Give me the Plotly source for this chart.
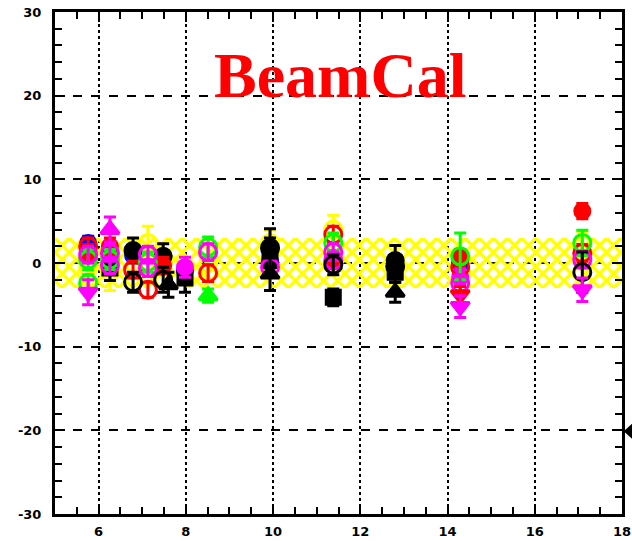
import plotly.graph_objects as go

# ---- data -------------------------------------------------------------
band_x = [5.0, 18.0]
band_lo = -3.0
band_hi = 3.0

red_fill_x = [5.76, 6.26, 7.48, 11.38, 14.29, 17.09]
red_fill_y = [1.2, 2.0, -0.3, 0.5, 0.6, 6.2]
red_fill_e = [1.0, 1.0, 1.0, 1.0, 1.0, 0.9]

red_open_x = [5.76, 6.79, 7.13, 8.51, 11.38, 14.29, 17.09]
red_open_y = [2.0, -0.8, -3.2, -1.2, 3.4, -0.5, 1.2]
red_open_e = [1.0, 1.0, 0.9, 1.0, 1.0, 1.0, 1.0]

green_open_x = [5.76, 5.76, 6.26, 7.13, 8.51, 11.38, 14.29, 17.09]
green_open_y = [0.4, -2.4, 0.4, 0.1, 1.9, 2.4, 0.8, 2.4]
green_open_e = [1.2, 1.0, 1.2, 1.2, 1.2, 1.2, 2.8, 1.5]

blue_fill_x = [5.76, 6.79, 7.98, 9.93, 12.8, 14.29]
blue_fill_y = [2.4, 0.9, -0.9, 0.2, -0.1, 0.0]
blue_fill_e = [0.8, 0.8, 0.8, 0.8, 0.8, 0.8]

mag_open_x = [5.76, 6.26, 6.26, 7.13, 7.13, 8.51, 9.93, 11.38, 11.38, 14.29, 17.09]
mag_open_y = [1.0, 1.2, -0.3, 1.0, -0.6, 1.3, -0.5, 1.3, 0.3, -2.4, 0.4]
mag_open_e = [1.0, 1.0, 1.0, 1.0, 1.0, 1.0, 1.0, 1.0, 1.0, 1.0, 1.0]

mag_fill_x = [7.98, 14.29]
mag_fill_y = [-0.5, -1.7]
mag_fill_e = [1.2, 1.0]

mag_down_x = [5.76, 14.29, 17.09]
mag_down_y = [-3.5, -5.2, -3.2]
mag_down_e = [1.5, 1.3, 1.4]

mag_up_x = [6.26]
mag_up_y = [4.0]
mag_up_e = [1.5]

yel_open_x = [5.76, 6.26, 7.13, 8.51, 9.93, 11.38, 17.09]
yel_open_y = [-0.6, -1.1, 2.4, 0.0, 2.4, 4.0, 2.2]
yel_open_e = [2.0, 2.2, 2.0, 2.0, 1.5, 1.7, 1.5]

blk_fill_x = [6.79, 7.48, 9.93, 12.8]
blk_fill_y = [1.5, 0.8, 1.8, 0.3]
blk_fill_e = [1.5, 1.5, 2.3, 1.8]

blk_open_x = [6.79, 7.48, 9.93, 11.38, 12.8, 17.09]
blk_open_y = [-2.3, -2.0, 1.8, -0.2, -0.4, -1.1]
blk_open_e = [1.2, 1.5, 1.2, 1.2, 1.2, 2.4]

blk_sq_x = [6.26, 7.98, 9.93, 11.38, 12.8]
blk_sq_y = [-0.6, -1.8, 0.3, -4.1, -1.1]
blk_sq_e = [1.5, 1.7, 1.5, 1.0, 1.2]

blk_up_x = [7.6, 9.93, 12.8]
blk_up_y = [-2.6, -1.3, -3.5]
blk_up_e = [1.5, 2.0, 1.2]

grn_up_x = [8.51]
grn_up_y = [-3.9]
grn_up_e = [0.8]

red_down_x = [14.29]
red_down_y = [-3.8]
red_down_e = [1.0]

# point lying just past the right end of the x range
edge_y = -20.1

x_ticks = [6, 8, 10, 12, 14, 16, 18]
y_ticks = [-30, -20, -10, 0, 10, 20, 30]

# ---- figure -----------------------------------------------------------
fig = go.Figure()

# hatched yellow uncertainty band
fig.add_trace(go.Scatter(
    x=[band_x[0], band_x[1], band_x[1], band_x[0], band_x[0]],
    y=[band_lo, band_lo, band_hi, band_hi, band_lo],
    mode="lines", fill="toself", line=dict(width=0, color="rgba(0,0,0,0)"),
    fillcolor="rgba(0,0,0,0)",
    fillpattern=dict(shape="x", fgcolor="#ffff00", fgopacity=1,
                     bgcolor="rgba(0,0,0,0)", size=10, solidity=0.55),
    hoverinfo="skip", showlegend=False,
))


def series(xs, ys, es, color, symbol, size=17, lw=3):
    fig.add_trace(go.Scatter(
        x=xs, y=ys, mode="markers",
        marker=dict(symbol=symbol, size=size, color=color,
                    line=dict(color=color, width=lw)),
        error_y=dict(type="data", array=es, visible=True,
                     color=color, thickness=3, width=6),
        showlegend=False,
    ))


series(yel_open_x, yel_open_y, yel_open_e, "#ffff00", "circle-open")
series(blue_fill_x, blue_fill_y, blue_fill_e, "#0000ff", "circle", 15)
series(blk_fill_x, blk_fill_y, blk_fill_e, "#000000", "circle", 16)
series(blk_sq_x, blk_sq_y, blk_sq_e, "#000000", "square", 14)
series(red_fill_x, red_fill_y, red_fill_e, "#ff0000", "circle", 15)
series(mag_fill_x, mag_fill_y, mag_fill_e, "#ff00ff", "circle", 15)
series(red_open_x, red_open_y, red_open_e, "#ff0000", "circle-open")
series(green_open_x, green_open_y, green_open_e, "#00ff00", "circle-open")
series(mag_open_x, mag_open_y, mag_open_e, "#ff00ff", "circle-open")
series(blk_open_x, blk_open_y, blk_open_e, "#000000", "circle-open")
series(blk_up_x, blk_up_y, blk_up_e, "#000000", "triangle-up", 16)
series(grn_up_x, grn_up_y, grn_up_e, "#00ff00", "triangle-up", 16)
series(red_down_x, red_down_y, red_down_e, "#ff0000", "triangle-down", 16)
series(mag_down_x, mag_down_y, mag_down_e, "#ff00ff", "triangle-down", 16)
series(mag_up_x, mag_up_y, mag_up_e, "#ff00ff", "triangle-up", 16)

# left-pointing marker just beyond the right frame (partly off the page)
half = 1.9
fig.add_shape(
    type="path", xref="paper", yref="y", layer="above",
    path=(f"M 1.003 {edge_y} L 1.034 {edge_y + half} "
          f"L 1.034 {edge_y - half} Z"),
    fillcolor="#000000", line=dict(width=0),
)

fig.add_annotation(
    x=0.503, y=22.4, xref="paper", yref="y", text="<b>BeamCal</b>",
    showarrow=False, font=dict(family="Liberation Serif", size=64, color="#ff0000"),
)

tick_font = dict(family="DejaVu Sans", size=13, color="#000000", weight=900)

fig.update_xaxes(
    range=[5, 18], tickvals=x_ticks, ticktext=[str(v) for v in x_ticks],
    showline=True, linecolor="#000000", linewidth=3, mirror="ticks",
    ticks="inside", ticklen=10, tickwidth=2, tickcolor="#000000",
    minor=dict(dtick=0.5, ticks="inside", ticklen=7, tickwidth=2, tickcolor="#000000", showgrid=False),
    showgrid=True, gridcolor="#000000", gridwidth=2, griddash="dot",
    zeroline=False, tickfont=tick_font, ticklabelstandoff=3,
)
fig.update_yaxes(
    range=[-30, 30], tickvals=y_ticks, ticktext=[str(v) for v in y_ticks],
    showline=True, linecolor="#000000", linewidth=3, mirror="ticks",
    ticks="inside", ticklen=10, tickwidth=2, tickcolor="#000000",
    minor=dict(dtick=2, ticks="inside", ticklen=7, tickwidth=2, tickcolor="#000000", showgrid=False),
    showgrid=True, gridcolor="#000000", gridwidth=2, griddash="dash",
    zeroline=False, tickfont=tick_font, ticklabelstandoff=8,
)

fig.update_layout(
    width=632, height=541,
    margin=dict(l=55, r=10, t=12, b=27, autoexpand=False),
    paper_bgcolor="#ffffff", plot_bgcolor="#ffffff",
    showlegend=False,
)

fig.write_html("out.html")
